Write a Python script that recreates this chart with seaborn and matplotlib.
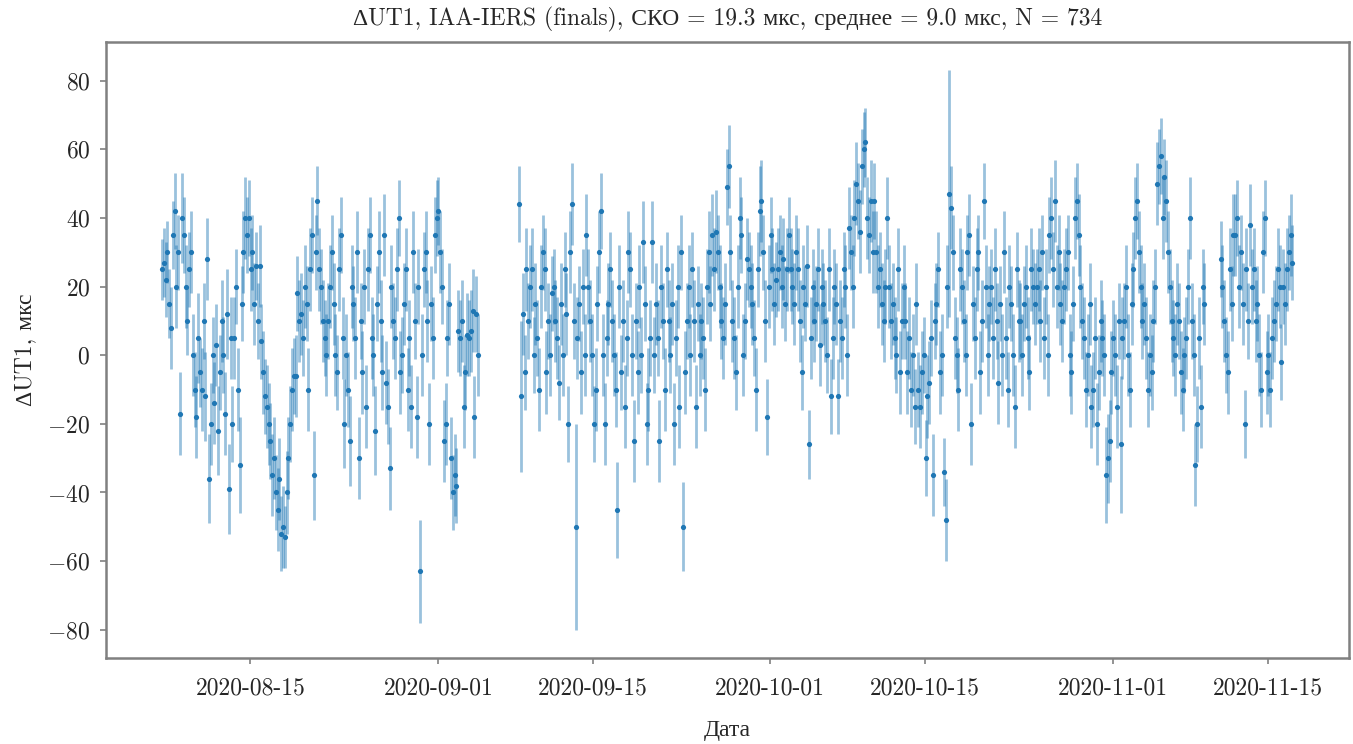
import pandas as pd
import matplotlib
matplotlib.use("Agg")
import matplotlib.pyplot as plt
import matplotlib.dates as mdates
import seaborn as sns


# Data: dUT1 residuals (mks) and their errors
# segment A: 2020-08-07 .. 2020-09-04
seg_a_values = [
    25, 27, 22, 30, 15, 8, 35, 42, 20,
    30, -17, 40, 35, 20, 10, 25, 30,
    0, -10, -18, 5, -5, -10, 10, -12, 28,
    -36, -20, 0, -14, 3, -22, -5, 10,
    0, -17, 12, -39, 5, -20, 5, 20,
    -10, -32, 15, 30, 40, 35, 40, 25,
    30, 15, 26, 10, 26, 4, -5, -12, -15,
    -20, -25, -35, -30, -40, -45, -36, -52, -50,
    -53, -40, -30, -20, -10, -6, -6, 18, 10,
    12, 5, 20, 15, -10, 25, 35, -35,
    30, 45, 25, 20, 10, 5, 0, 10,
    20, 30, 15, 0, -5, 25, 35, 5, -20,
    0, -10, -25, 20, 15, 5, 30, -30, 10,
    -5, 20, -15, 25, 35, 5, 0, -22,
    15, 30, 10, -5, 35, -8, -15, -33,
    20, 10, 5, 25, 40, -5, 0, 15,
    25, -10, 5, -15, 30, 10, -18, 20,
    -63, 0, 25, 30, 10, -20, 15, 5,
    35, 40, 42, 30, 20, -25, -20, 5,
    15, -30, -40, -35, -38, 7, 5, 10,
    -15, -5, 6, 5, 7, 13, -18, 12, 0,
]
seg_a_errors = [
    9, 10, 11, 9, 10, 12, 10, 11, 12,
    11, 12, 13, 11, 12, 10, 11, 12,
    12, 11, 12, 13, 10, 12, 11, 13, 12,
    13, 12, 11, 12, 12, 13, 11, 12,
    11, 12, 13, 13, 12, 11, 12, 11,
    12, 14, 11, 12, 12, 11, 11, 12,
    11, 12, 10, 11, 12, 11, 12, 11, 12,
    12, 11, 12, 12, 11, 12, 12, 11, 12,
    9, 12, 12, 11, 12, 11, 12, 11, 12,
    12, 11, 12, 11, 12, 12, 11, 13,
    11, 10, 12, 11, 12, 11, 12, 11,
    12, 11, 12, 12, 11, 12, 11, 12, 13,
    12, 11, 13, 12, 11, 12, 12, 12, 11,
    12, 11, 12, 12, 11, 12, 12, 13,
    11, 12, 12, 11, 12, 12, 11, 12,
    12, 11, 12, 12, 11, 12, 11, 12,
    12, 12, 11, 12, 12, 11, 12, 11,
    15, 12, 11, 12, 12, 12, 11, 12,
    11, 11, 10, 12, 11, 12, 12, 11,
    12, 12, 11, 12, 11, 12, 11, 12,
    12, 11, 12, 11, 12, 12, 12, 11, 12,
]

# segment B: 2020-09-08 .. 2020-11-09
seg_b_values = [
    44, -12, 12, -5, 25, 10, 20, 25, 0,
    15, 5, -10, 20, 30, 25, -5, 10, 0, 18,
    20, 10, 5, -8, 15, 0, 25, 12, -20, 30,
    44, 10, -50, 5, 15, -5, 20, 0, 35,
    20, 10, 0, -20, -10, 15, 30, 42, 0,
    -20, 5, 15, 25, 10, 0, -10, -45,
    20, -5, 10, -15, 5, 30, 25, 0, -25,
    10, -5, 20, 0, 33, 15, -20, -10, 5,
    33, 0, 15, 5, -25, 20, 10, -10, 25,
    10, 0, 15, -20, 5, 20, -15, 30,
    -50, -5, 10, 20, 0, 25, 10, -15, 15,
    0, 10, 5, -10, 20, 30, 15, 35, 25,
    36, 30, 20, 10, 5, 15, 49,
    55, 30, 10, 5, -5, 20, 40, 35,
    0, 10, 28, 25, 20, 15, 5, -10, 25,
    42, 45, 30, 10, -18, 20, 35, 25, 15,
    22, 25, 30, 20, 28, 15, 25, 35,
    25, 20, 15, 30, 25, 10, -5, 20,
    15, 26, -26, 5, 20, 10, 15, 25,
    3, 20, 15, 10, 0, 25, -12, 5,
    20, 15, -12, 10, 5, 25, 20, 0,
    37, 30, 20, 40, 50, 45, 36,
    55, 60, 62, 40, 35, 45, 30,
    45, 30, 20, 25, 15, 10, 20, 40,
    20, 10, 15, 5, 0, 25, -5, 10,
    20, 10, -5, 5, -10, 0, -15, 15,
    -10, -15, -5, 0, -30, -12, -8, 5,
    -35, 10, 15, 25, -5, 0, -34, -48,
    20, 47, 43, 30, 5, 0, -10, 25,
    20, 10, 0, 30, 35, -20, 15, 5,
    25, 30, -5, 10, 45, 20, 0, 15,
    20, 5, 25, 10, -8, 15, 0, 30,
    5, -10, 20, 15, 0, -15, 25, 10,
    10, 0, 15, 20, 5, -5, 25, 20,
    15, 20, 25, 10, 30, 5, 20, 0,
    35, 40, 25, 45, 20, 30, 15,
    10, 20, 25, 30, 0, -5, 15, 40,
    45, 35, 20, 10, 5, -10, 0, 15,
    -15, -10, 5, -20, -5, 10, 5, 0,
    -35, -30, -25, -5, 5, 0, -15, 10,
    -26, 5, 10, 20, 0, -10, 15, 25,
    40, 45, 30, 20, 10, 15, 5, -10,
    0, -5, 10, 20, 50, 55, 58, 40,
    52, 45, 30, 20, 10, 5, 0,
    15, 10, -5, -10, 0, 5, 20, 40,
    10, 0, -32, -20, 5, -15, 20, 15,
]
seg_b_errors = [
    11, 22, 12, 11, 12, 11, 12, 12, 11,
    12, 11, 12, 12, 11, 12, 12, 11, 12, 11,
    11, 12, 12, 11, 12, 12, 11, 12, 11, 12,
    12, 11, 30, 12, 11, 12, 11, 12, 12,
    11, 12, 12, 11, 12, 11, 12, 11, 12,
    12, 11, 12, 11, 12, 12, 11, 14,
    12, 11, 12, 12, 11, 12, 11, 12, 12,
    11, 12, 12, 11, 12, 11, 12, 12, 11,
    12, 11, 12, 11, 12, 12, 11, 12, 11,
    12, 11, 12, 12, 11, 12, 12, 11,
    13, 12, 11, 12, 12, 11, 12, 12, 11,
    12, 11, 12, 12, 11, 12, 11, 12, 12,
    12, 11, 12, 11, 12, 12, 11,
    12, 11, 12, 12, 11, 12, 12, 11,
    12, 11, 12, 11, 12, 12, 11, 12, 11,
    13, 12, 11, 12, 11, 12, 11, 12, 12,
    11, 12, 11, 12, 12, 11, 12, 11,
    12, 11, 12, 11, 12, 12, 11, 12,
    11, 12, 10, 12, 11, 12, 11, 12,
    12, 11, 12, 12, 11, 12, 11, 12,
    11, 12, 11, 12, 12, 11, 12, 12,
    12, 11, 12, 11, 12, 11, 12,
    11, 11, 10, 12, 11, 12, 12,
    11, 12, 12, 11, 12, 12, 11, 12,
    12, 11, 12, 12, 11, 12, 12, 11,
    12, 11, 12, 12, 11, 12, 11, 12,
    11, 12, 12, 11, 11, 12, 12, 11,
    12, 11, 12, 11, 12, 12, 10, 12,
    12, 36, 12, 11, 12, 11, 12, 12,
    11, 12, 12, 11, 12, 12, 11, 12,
    12, 11, 12, 12, 11, 12, 12, 11,
    11, 12, 12, 11, 12, 11, 12, 12,
    12, 11, 12, 11, 12, 12, 11, 12,
    11, 12, 11, 12, 12, 11, 12, 11,
    12, 11, 12, 12, 11, 12, 11, 12,
    11, 12, 11, 12, 12, 11, 12,
    12, 11, 12, 11, 12, 12, 11, 12,
    11, 12, 12, 11, 12, 11, 12, 12,
    12, 11, 12, 12, 11, 12, 11, 12,
    14, 13, 12, 12, 11, 12, 12, 11,
    20, 12, 11, 12, 12, 11, 12, 11,
    12, 11, 12, 12, 11, 12, 12, 11,
    12, 11, 12, 11, 12, 11, 11, 12,
    11, 12, 12, 11, 12, 11, 12,
    12, 11, 12, 12, 11, 12, 11, 12,
    11, 12, 12, 11, 12, 12, 11, 12,
]

# segment C: 2020-11-10 .. 2020-11-17
seg_c_values = [
    28, 20, 10, 0, -5, 25, 15, 35,
    35, 40, 20, 30, 15, -20, 25, 10, 38,
    20, 25, 10, 15, 0, -10, 30, 40, -5,
    0, -10, 5, 10, 15, 25, 20, -2,
    20, 15, 25, 30, 35, 27,
]
seg_c_errors = [
    11, 12, 12, 11, 12, 12, 11, 12,
    12, 11, 12, 11, 12, 10, 12, 11, 12,
    11, 12, 12, 11, 12, 11, 12, 11, 12,
    12, 11, 12, 12, 11, 12, 12, 11,
    11, 12, 12, 11, 12, 11,
]

segment_spans = [
    ("2020-08-07 00:00", "2020-09-04 14:00"),
    ("2020-09-08 07:00", "2020-11-09 07:00"),
    ("2020-11-10 18:00", "2020-11-17 06:00"),
]

title_text = ("\u0394UT1, IAA-IERS (finals), СКО = 19.3 мкс, "
              "среднее = 9.0 мкс, N = 734")
ylabel_text = "\u0394UT1, мкс"
xlabel_text = "Дата"


def build_frame() -> pd.DataFrame:
    parts = []
    pairs = [(seg_a_values, seg_a_errors), (seg_b_values, seg_b_errors),
             (seg_c_values, seg_c_errors)]
    for (start, end), (vals, errs) in zip(segment_spans, pairs):
        times = pd.date_range(start, end, periods=len(vals))
        parts.append(pd.DataFrame({"date": times, "dut1": vals, "err": errs}))
    return pd.concat(parts, ignore_index=True)


def main() -> None:
    sns.set_theme(style="white")
    plt.rcParams["font.family"] = ["cmr10", "Liberation Serif"]
    plt.rcParams["mathtext.fontset"] = "cm"
    plt.rcParams["axes.formatter.use_mathtext"] = True
    plt.rcParams["axes.unicode_minus"] = True

    df = build_frame()

    fig, ax = plt.subplots(figsize=(13.53, 7.44), dpi=100)
    fig.subplots_adjust(left=0.078, right=0.997, bottom=0.116, top=0.943)

    ax.errorbar(df["date"], df["dut1"], yerr=df["err"], fmt="none",
                ecolor="#1f77b4", alpha=0.45, elinewidth=2.0, capsize=0)
    sns.scatterplot(data=df, x="date", y="dut1", ax=ax, color="#1f77b4",
                    s=14, linewidth=0, zorder=3)

    ax.xaxis.set_major_locator(mdates.DayLocator(bymonthday=[1, 15]))
    ax.xaxis.set_major_formatter(mdates.DateFormatter("%Y-%m-%d"))

    for side in ["left", "right", "top", "bottom"]:
        ax.spines[side].set_color("#808080")
        ax.spines[side].set_linewidth(1.8)
    ax.tick_params(axis="both", which="major", labelsize=17, color="#808080",
                   length=4, width=1.2, left=True, bottom=True)
    ax.tick_params(axis="x", pad=10)
    ax.tick_params(axis="y", pad=7)

    ax.set_title(title_text, fontsize=17, pad=12)
    ax.set_xlabel(xlabel_text, fontsize=17, labelpad=14)
    ax.set_ylabel(ylabel_text, fontsize=17, labelpad=8)

    fig.savefig("out.png", dpi=100)
    plt.close(fig)


if __name__ == "__main__":
    main()
